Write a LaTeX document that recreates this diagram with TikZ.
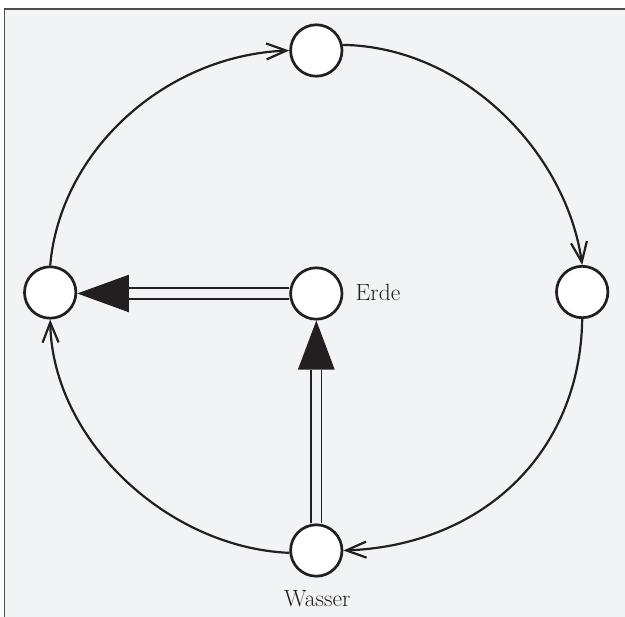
\documentclass[tikz,border=0pt]{standalone}
\usetikzlibrary{arrows.meta}
\definecolor{bg}{HTML}{F2F3F5}
\definecolor{ink}{HTML}{231F20}
\definecolor{framec}{HTML}{4D4D4D}
\begin{document}
\begin{tikzpicture}[x=1pt,y=-1pt,
  state/.style={circle, draw=ink, fill=white, line width=2.7pt, minimum size=51.4pt, inner sep=0pt},
  flow/.style={draw=ink, line width=2.2pt, -{Straight Barb[length=20pt,width=16pt,line width=2.2pt]}},
  dbl/.style={draw=ink, line width=1.9pt, double=bg, double distance=8.5pt},
  lbl/.style={text=ink, font=\fontsize{23.5}{27}\selectfont, inner sep=0pt}]
\useasboundingbox (0,0) rectangle (625,617);
\fill[white] (0,0) rectangle (625,617);
\draw[framec, fill=bg, line width=1.4pt] (4.5,9) rectangle (640,640);
\node[state] (top) at (316.3,50.5) {};
\node[state] (left) at (50.2,292.5) {};
\node[state] (erde) at (316.3,293.5) {};
\node[state] (right) at (582.2,292) {};
\node[state] (bottom) at (316.3,550.5) {};
\draw[flow] (left.north) .. controls +(10,-115) and +(-124,5) .. (top.west);
\draw[flow] (top.12) .. controls +(122,2) and +(-16,-112) .. (right.north);
\draw[flow] (right.south) .. controls +(-2,135) and +(138,-5) .. (bottom.east);
\draw[flow] (bottom.185) .. controls +(-122,-5) and +(2,120) .. (left.south);
\draw[dbl, shorten >=51.7pt] (erde.west) -- (erde.west -| left.east);
\fill[ink] (erde.west -| left.east) -- ++(51.7,-18.8) -- ++(0,37.6) -- cycle;
\draw[dbl, shorten >=49pt] (bottom.north) -- (erde.south);
\fill[ink] (erde.south) -- ++(-18.4,49) -- ++(36.8,0) -- cycle;
\node[lbl, anchor=base west] (erdelbl) at (355.5,300.7) {Erde};
\node[lbl, anchor=base] (wasserlbl) at (317.3,606.7) {Wasser};
\end{tikzpicture}
\end{document}
